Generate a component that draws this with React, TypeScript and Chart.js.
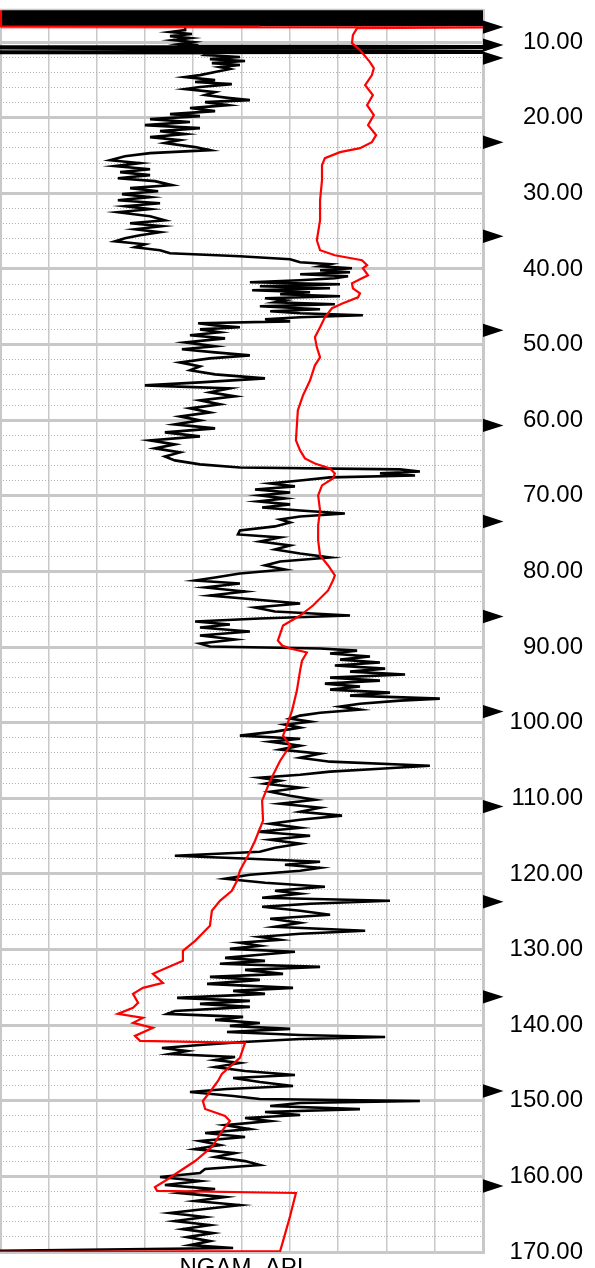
import React, { useEffect, useRef } from 'react';
import { Chart, registerables } from 'chart.js';

Chart.register(...registerables);

// ---- data: [depth, value] ----
// spurious (null-value) bands of the NGAM log near the top
const ngamTopBand: [number, number][] = [
  [5.75,-10],[5.8,160],[5.85,-10],[5.9,160],[5.95,-10],[6.0,160],[6.05,-10],[6.1,160],[6.15,-10],[6.2,160],
  [6.25,-10],[6.3,160],[6.35,-10],[6.4,160],[6.45,-10],[6.5,160],[6.55,-10],[6.6,160],[6.65,-10],[6.7,160],
  [6.75,-10],[6.8,160],[6.85,-10],[6.9,160],[6.95,-10],[7.0,160],[7.05,-10],[7.1,160],[7.15,-10],[7.2,160],
  [7.25,-10],[7.3,160],[7.35,-10],[7.4,160],[7.45,-10],[7.5,160],[7.55,-10],[7.6,160],[7.65,-10],[7.7,160],
  [7.75,-10],[7.78,57.5],
];
const ngamHead: [number, number][] = [
  [8.41,57.5],[8.68,52.8],[8.94,59.6],[9.21,52.8],[9.47,59.0],[9.74,53.7],[10.0,59.9],[10.26,55.9],[10.4,61.2],[10.5,61.5],
];
const ngamSecondBand: [number, number][] = [
  [10.55,160],[10.6,-10],[10.65,160],[10.7,-10],[10.75,160],[10.8,-10],
  [11.2,160],[11.25,-10],[11.3,160],[11.35,-10],[11.4,160],[11.45,-10],[11.47,65],
];
const ngamMain: [number, number][] = [
  [11.72,63.7],[11.98,74.5],[12.25,65.2],[12.51,76.1],[12.78,65.8],[13.04,74.5],[13.31,68.3],[13.57,71.4],[13.97,66.8],[14.37,62.1],
  [14.63,57.5],[15.03,66.8],[15.29,60.6],[15.56,72.0],[15.95,62.1],[16.22,57.5],[16.62,66.8],[17.01,63.7],[17.41,71.4],[17.68,77.6],
  [17.94,63.7],[18.34,70.8],[18.73,59.0],[19.13,66.8],[19.53,52.8],[19.79,62.1],[20.19,46.6],[20.58,59.0],[20.98,45.0],[21.38,62.1],
  [21.78,49.7],[22.17,57.5],[22.57,46.6],[22.97,55.9],[23.36,51.2],[23.89,60.6],[24.29,65.2],[24.69,46.6],[25.09,38.8],[25.62,34.2],
  [26.01,43.5],[26.41,35.7],[26.81,46.6],[27.2,37.3],[27.6,46.6],[28.0,36.6],[28.39,48.1],[28.92,53.4],[29.32,40.4],[29.72,49.1],
  [30.11,37.9],[30.51,46.6],[30.91,36.6],[31.31,49.7],[31.7,38.8],[32.1,46.6],[32.5,36.6],[33.03,46.6],[33.56,51.2],[33.95,40.4],
  [34.35,50.3],[34.75,41.9],[35.15,49.7],[35.54,43.5],[35.94,38.8],[36.34,35.7],[36.74,45.0],[37.13,41.9],[37.53,49.7],[37.93,52.8],
  [38.32,74.5],[38.72,90.1],[39.12,93.2],[39.38,102.5],[39.65,99.4],[39.91,109.3],[40.18,99.4],[40.44,108.7],[40.71,93.2],[40.97,108.1],
  [41.24,104.0],[41.5,93.2],[41.77,77.6],[42.03,105.6],[42.3,80.7],[42.56,102.5],[42.82,78.3],[43.09,96.3],[43.35,87.0],[43.62,105.6],
  [43.88,82.3],[44.15,88.5],[44.41,85.4],[44.68,104.0],[44.94,80.7],[45.34,99.4],[45.6,83.9],[45.87,93.2],[46.13,112.7],[46.4,93.2],
  [46.66,82.3],[46.93,90.1],[47.19,61.5],[47.46,66.8],[47.72,74.5],[47.99,62.1],[48.38,68.3],[48.78,59.0],[49.18,69.9],[49.71,57.5],
  [50.24,66.8],[50.63,56.5],[51.03,66.8],[51.43,77.6],[51.83,65.2],[52.36,55.9],[52.89,62.1],[53.41,59.0],[53.94,66.8],[54.47,82.3],
  [55.0,62.1],[55.4,45.0],[55.79,71.4],[56.32,65.2],[56.85,73.0],[57.38,62.1],[57.91,68.3],[58.44,59.0],[58.97,65.2],[59.5,55.9],
  [60.03,62.1],[60.56,54.3],[61.08,66.8],[61.61,51.2],[62.14,62.1],[62.67,46.6],[63.2,54.3],[63.73,48.1],[64.26,55.9],[64.79,51.2],
  [65.32,54.3],[65.85,62.1],[66.25,74.5],[66.51,124.2],[66.78,130.4],[67.04,118.0],[67.31,128.9],[67.57,102.5],[67.97,93.2],[68.37,83.9],
  [68.76,91.6],[69.16,79.2],[69.56,90.1],[69.95,80.7],[70.35,88.5],[70.75,80.1],[71.14,90.1],[71.54,81.4],[71.94,93.2],[72.34,107.1],
  [72.73,93.2],[73.13,87.0],[73.53,90.1],[74.05,85.4],[74.58,74.5],[75.11,73.9],[75.51,87.0],[76.04,80.7],[76.57,90.1],[77.1,85.4],
  [77.63,93.2],[78.16,102.5],[78.69,87.0],[79.21,82.3],[79.74,88.5],[80.27,74.5],[80.8,66.8],[81.2,60.6],[81.6,74.5],[82.13,63.7],
  [82.66,76.1],[83.19,65.2],[83.72,79.2],[84.25,93.2],[84.78,79.2],[85.3,85.4],[85.83,108.7],[86.23,80.7],[86.63,60.6],[87.02,71.4],
  [87.42,62.1],[87.95,77.6],[88.48,62.1],[89.01,73.0],[89.54,62.1],[89.94,65.2],[90.2,99.4],[90.47,110.9],[90.86,102.5],[91.26,114.9],
  [91.66,105.6],[92.05,118.0],[92.45,104.0],[92.85,119.6],[93.25,108.7],[93.64,125.8],[94.04,102.5],[94.44,118.0],[94.84,100.9],[95.23,111.8],
  [95.63,102.5],[96.03,121.1],[96.43,108.7],[96.82,136.6],[97.09,124.2],[97.49,111.8],[97.88,105.6],[98.28,111.8],[98.68,99.4],[99.07,93.2],
  [99.47,90.1],[99.87,96.3],[100.26,88.5],[100.66,93.2],[101.19,85.4],[101.72,74.5],[102.12,93.2],[102.51,83.9],[103.04,93.2],[103.57,87.0],
  [104.1,99.4],[104.63,93.2],[105.16,102.5],[105.69,133.5],[106.09,118.0],[106.48,102.5],[106.88,93.2],[107.28,80.7],[107.67,87.0],[108.07,82.3],
  [108.6,93.2],[109.13,83.9],[109.66,90.1],[110.19,97.8],[110.72,87.0],[111.25,99.4],[111.78,93.2],[112.3,106.2],[112.83,93.2],[113.36,83.9],
  [113.89,93.2],[114.42,80.1],[114.95,96.3],[115.48,83.9],[116.01,93.2],[116.54,85.4],[117.07,80.7],[117.6,54.3],[118.0,77.6],[118.39,99.4],
  [118.79,88.5],[119.19,99.4],[119.58,93.2],[120.11,77.6],[120.64,69.9],[121.17,82.3],[121.7,100.9],[122.23,85.4],[122.63,93.2],[123.16,81.4],
  [123.56,121.1],[123.95,96.3],[124.35,81.4],[124.88,93.2],[125.41,102.5],[125.94,83.9],[126.47,93.2],[127.0,85.4],[127.52,113.4],[127.92,93.2],
  [128.32,80.7],[128.72,87.0],[129.11,74.5],[129.51,80.7],[129.91,71.4],[130.3,91.6],[130.7,80.7],[131.1,69.9],[131.5,82.3],[131.89,68.3],
  [132.29,99.4],[132.69,76.1],[133.22,87.9],[133.62,65.2],[134.01,80.7],[134.54,64.3],[135.07,91.0],[135.47,72.4],[135.87,82.3],[136.4,55.0],
  [136.79,77.6],[137.19,62.1],[137.59,77.6],[138.12,54.3],[138.51,51.9],[138.91,75.5],[139.31,66.8],[139.71,80.7],[140.1,71.4],[140.5,90.1],
  [140.9,70.5],[141.3,93.2],[141.56,119.6],[141.83,93.2],[142.22,75.5],[142.62,62.1],[143.02,50.3],[143.42,58.1],[143.81,52.8],[144.21,73.0],
  [144.61,66.8],[145.01,74.5],[145.54,66.8],[146.06,76.1],[146.59,91.6],[146.99,72.4],[147.52,80.7],[148.05,91.0],[148.45,70.5],[148.84,59.0],
  [149.37,72.4],[149.77,80.7],[150.04,130.4],[150.3,93.2],[150.7,83.9],[151.1,111.8],[151.49,82.3],[151.89,93.2],[152.29,76.1],[152.69,83.9],
  [153.22,69.9],[153.75,77.6],[154.27,63.7],[154.8,76.1],[155.33,62.1],[155.86,68.3],[156.39,60.6],[156.92,73.0],[157.45,66.8],[157.98,76.1],
  [158.51,80.7],[159.03,63.7],[159.56,62.1],[160.09,49.7],[160.62,62.1],[161.15,51.2],[161.68,66.8],[162.21,55.9],[162.74,69.9],[163.26,60.6],
  [163.79,74.5],[164.32,63.7],[164.85,52.8],[165.38,63.7],[165.91,54.3],[166.44,65.2],[166.97,56.8],[167.5,66.1],[168.03,58.1],[168.56,65.2],
  [169.09,59.0],[169.48,72.4],[169.88,-10],
];

// red curve
const redTop: [number, number][] = [
  [5.7,0.3],[7.92,0.3],[7.97,80.7],[8.02,0.3],[8.05,160],
];
const redMain: [number, number][] = [
  [8.15,110.9],[9.07,109.6],[10.13,109.3],[11.06,111.8],[12.65,114.9],[13.44,116.1],[14.37,115.5],[15.69,113.4],[17.01,115.8],[18.34,114.0],
  [19.66,116.1],[20.98,114.3],[22.3,116.8],[23.23,115.5],[24.03,111.8],[24.56,105.6],[25.36,100.9],[26.28,100.0],[28.26,100.0],[30.91,99.4],
  [33.56,99.4],[36.21,98.4],[37.53,99.4],[38.19,104.0],[38.85,112.4],[39.51,114.0],[39.91,112.7],[40.84,114.3],[41.37,111.8],[41.9,109.3],
  [42.56,109.6],[43.22,111.8],[43.75,111.2],[44.54,106.5],[45.2,103.1],[46.4,100.9],[47.72,99.4],[49.04,97.8],[50.37,98.4],[51.69,99.4],
  [52.75,97.8],[54.73,96.3],[56.72,94.1],[58.7,92.5],[60.69,92.2],[62.67,91.9],[64.0,93.2],[65.06,94.7],[65.72,97.8],[66.38,102.5],
  [67.04,104.0],[67.7,103.4],[68.63,100.0],[69.95,98.8],[71.94,99.4],[73.92,98.8],[75.91,98.8],[77.89,99.4],[79.21,101.9],[80.54,104.0],
  [81.2,103.4],[82.52,101.9],[84.51,97.2],[85.83,93.2],[87.15,87.9],[89.14,86.3],[89.8,87.6],[90.2,90.1],[90.73,95.3],[91.79,93.8],
  [93.11,93.2],[95.76,92.2],[98.41,90.7],[100.39,89.1],[101.72,87.9],[103.04,90.1],[105.03,87.0],[107.67,83.9],[110.32,81.4],[112.96,81.7],
  [115.61,79.2],[117.6,77.0],[119.58,74.5],[120.91,73.6],[122.23,72.0],[123.56,68.3],[124.88,65.8],[126.87,65.2],[128.85,60.6],[130.17,56.8],
  [131.5,56.8],[133.22,47.5],[134.41,50.6],[135.07,44.4],[135.86,41.3],[137.06,42.9],[137.72,41.3],[138.51,36.6],[139.04,44.4],[139.7,41.3],
  [140.36,47.5],[141.42,41.9],[142.08,43.5],[142.35,76.1],[144.33,74.5],[145.13,72.4],[146.45,68.9],[147.38,67.7],[148.31,66.1],[150.03,63.0],
  [151.08,63.7],[152.01,69.9],[152.67,71.4],[154.0,68.9],[155.98,66.1],[157.97,60.6],[159.29,55.9],[160.61,51.2],[161.41,48.1],[161.93,48.8],
  [162.2,91.9],[165.25,90.1],[168.56,87.9],[169.88,87.0],[169.98,-10],
];

// depth markers (right-hand triangles)
const markerDepths: number[] = [8.02, 10.4, 12.12, 23.24, 35.68, 48.12, 60.69, 73.4, 85.97, 98.54, 111.1, 123.69, 136.26, 148.7, 161.28];

const depthMin = 5.76;
const depthMax = 170;
const apiMin = 0;
const apiMax = 150;

const isMajor = (v: any) => {
  if (typeof v !== 'number') return false;
  const r = v / 10;
  return Math.abs(r - Math.round(r)) < 1e-6;
};

const toPts = (arr: [number, number][]) => arr.map(([d, v]) => ({ x: v, y: d }));

const framePlugin = {
  id: 'frame',
  beforeDatasetsDraw(chart: any) {
    const { ctx, chartArea } = chart;
    ctx.save();
    ctx.strokeStyle = '#c8c8c8';
    ctx.lineWidth = 2;
    ctx.beginPath();
    ctx.moveTo(chartArea.left + 1, chartArea.top);
    ctx.lineTo(chartArea.left + 1, chartArea.bottom);
    ctx.stroke();
    ctx.restore();
  },
  afterDatasetsDraw(chart: any) {
    const { ctx, chartArea } = chart;
    ctx.save();
    ctx.strokeStyle = '#c8c8c8';
    ctx.lineWidth = 1.5;
    ctx.beginPath();
    ctx.moveTo(chartArea.left, chartArea.top - 0.5);
    ctx.lineTo(chartArea.right, chartArea.top - 0.5);
    ctx.stroke();
    ctx.restore();
  },
};

const markerPlugin = {
  id: 'markers',
  afterDraw(chart: any) {
    const { ctx, chartArea } = chart;
    const y = chart.scales.y;
    ctx.save();
    ctx.fillStyle = '#000';
    for (const d of markerDepths) {
      const py = y.getPixelForValue(d);
      ctx.beginPath();
      ctx.moveTo(chartArea.right, py - 6.7);
      ctx.lineTo(chartArea.right + 20.5, py);
      ctx.lineTo(chartArea.right, py + 6.7);
      ctx.closePath();
      ctx.fill();
    }
    ctx.restore();
  },
};

export default function App() {
  const ref = useRef<HTMLCanvasElement>(null);

  useEffect(() => {
    Chart.defaults.font.family = "'Liberation Sans', Arial, Helvetica, sans-serif";
    const ngam = [...ngamTopBand, ...ngamHead, ...ngamSecondBand, ...ngamMain];
    const red = [...redTop, ...redMain];
    const chart = new Chart(ref.current as HTMLCanvasElement, {
      type: 'line',
      data: {
        datasets: [
          {
            label: 'RED',
            data: toPts(red),
            borderColor: '#ff0000',
            borderWidth: 2.2,
            pointRadius: 0,
            tension: 0,
            fill: false,
          },
          {
            label: 'NGAM_API',
            data: toPts(ngam),
            borderColor: '#000000',
            borderWidth: 2.6,
            pointRadius: 0,
            tension: 0,
            fill: false,
          },
        ],
      } as any,
      options: {
        indexAxis: 'y',
        animation: false,
        responsive: true,
        maintainAspectRatio: false,
        layout: { padding: { top: 10, left: 0, right: 12, bottom: 0 } },
        plugins: {
          legend: { display: false },
          tooltip: { enabled: false },
        },
        scales: {
          x: {
            type: 'linear',
            position: 'bottom',
            min: apiMin,
            max: apiMax,
            ticks: { display: false, stepSize: 15 },
            grid: { color: '#c8c8c8', lineWidth: 1.5, drawTicks: false },
            border: { display: true, color: '#c8c8c8', width: 3 },
            title: {
              display: true,
              text: 'NGAM_API',
              color: '#000',
              font: { size: 24 },
              padding: { top: 0, bottom: 7 },
            },
            afterFit: (s: any) => {
              s.height = 38;
              s.paddingLeft = 0;
              s.paddingRight = 0;
            },
          },
          y: {
            type: 'linear',
            position: 'right',
            reverse: true,
            min: depthMin,
            max: depthMax,
            ticks: {
              stepSize: 2,
              autoSkip: false,
              includeBounds: false,
              color: '#000',
              font: { size: 24 },
              padding: 16,
              crossAlign: 'far',
              callback: (value: any) => (isMajor(Number(value)) ? Number(value).toFixed(2) : ''),
            },
            grid: {
              drawTicks: false,
              color: (c: any) => (c.tick && isMajor(c.tick.value) ? '#c8c8c8' : '#b2b2b2'),
              lineWidth: (c: any) => (c.tick && isMajor(c.tick.value) ? 3 : 1),
            },
            border: {
              display: true,
              color: '#c8c8c8',
              width: 3,
              dash: (c: any) => (c.tick && !isMajor(c.tick.value) ? [1, 2] : []),
            },
            afterFit: (s: any) => {
              s.width = 100;
              s.paddingTop = 0;
              s.paddingBottom = 0;
            },
          },
        },
      } as any,
      plugins: [framePlugin, markerPlugin],
    });
    return () => chart.destroy();
  }, []);

  return (
    <div style={{ position: 'absolute', left: 0, top: 0, width: 595, height: 1268, overflow: 'hidden', background: '#fff' }}>
      <div style={{ position: 'relative', width: 595, height: 1290 }}>
        <canvas ref={ref} />
      </div>
    </div>
  );
}
